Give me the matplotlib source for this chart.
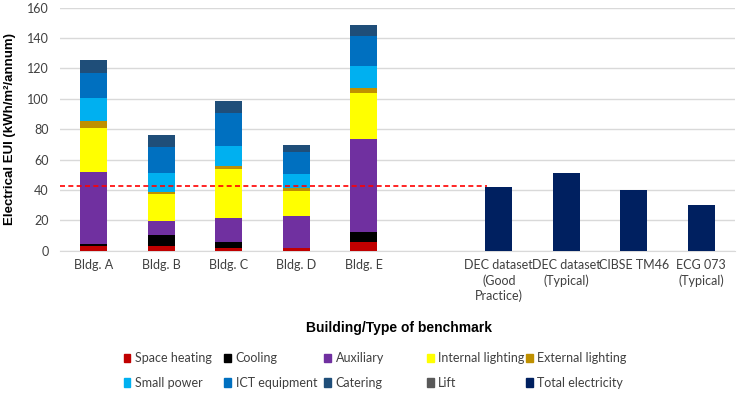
import numpy as np
import matplotlib.pyplot as plt
from matplotlib.patches import Patch

# categories (one blank slot between buildings and benchmarks)
labels = ["Bldg. A", "Bldg. B", "Bldg. C", "Bldg. D", "Bldg. E", "",
          "DEC dataset\n(Good\nPractice)", "DEC dataset\n(Typical)",
          "CIBSE TM46", "ECG 073\n(Typical)"]

# end-use breakdown for the five buildings (kWh/m2/annum)
space_heating = [3.0, 3.1, 2.0, 1.5, 5.9]
cooling = [1.3, 7.0, 3.5, 0.0, 6.2]
auxiliary = [47.6, 9.5, 15.8, 21.5, 61.4]
internal_lighting = [29.0, 17.5, 32.5, 16.3, 30.5]
external_lighting = [4.8, 1.3, 2.2, 1.9, 2.9]
small_power = [15.0, 12.8, 12.7, 9.0, 14.7]
ict_equipment = [16.3, 17.1, 21.9, 14.5, 19.9]
catering = [8.4, 8.1, 7.7, 4.6, 6.9]
lift = [0.0, 0.0, 0.0, 0.0, 0.0]

# benchmark totals
total_electricity = [42, 51, 40, 30]

# good practice reference line
ref_line = 42.6

series = [
    ("Space heating", space_heating, "#C00000"),
    ("Cooling", cooling, "#000000"),
    ("Auxiliary", auxiliary, "#7030A0"),
    ("Internal lighting", internal_lighting, "#FFFF00"),
    ("External lighting", external_lighting, "#BF9000"),
    ("Small power", small_power, "#00B0F0"),
    ("ICT equipment", ict_equipment, "#0070C0"),
    ("Catering", catering, "#1F4E79"),
    ("Lift", lift, "#595959"),
]
total_color = "#002060"

plt.rcParams['font.family'] = ['Lato', 'DejaVu Sans']

fig = plt.figure(figsize=(7.39, 3.96), dpi=100)
ax = fig.add_axes([0.0812, 0.367, 0.9134, 0.6134])

x = np.arange(len(labels))
xb = x[:5]
xr = x[6:]
w = 0.4

bottom = np.zeros(5)
for name, vals, col in series:
    vals = np.array(vals)
    ax.bar(xb, vals, w, bottom=bottom, color=col, zorder=3)
    bottom += vals

ax.bar(xr, total_electricity, w, color=total_color, zorder=3)

ax.plot([-0.5, xr[0] - 0.17], [ref_line, ref_line], color="#FF0000",
        linestyle=(0, (3, 2)), linewidth=1.2, zorder=4)

ax.set_xlim(-0.5, len(labels) - 0.5)
ax.set_ylim(0, 160)
ax.set_yticks(np.arange(0, 161, 20))
ax.yaxis.grid(True, color="#D9D9D9", linewidth=1)
ax.set_axisbelow(True)
for s in ["top", "right", "left"]:
    ax.spines[s].set_visible(False)
ax.spines["bottom"].set_color("#D9D9D9")
ax.tick_params(axis="y", length=0, labelsize=9, colors="#404040", pad=8)
ax.tick_params(axis="x", length=0, labelsize=9, colors="#404040", pad=6)
ax.set_xticks(x)
ax.set_xticklabels(labels, linespacing=1.3, va="top")

ax.set_ylabel("Electrical EUI (kWh/m²/annum)", fontsize=9.5, fontweight="bold",
              family="Liberation Sans", labelpad=8)
fig.text(0.54, 0.172, "Building/Type of benchmark", ha="center", va="center",
         fontsize=10, fontweight="bold", family="Liberation Sans")

handles = [Patch(color=c, label=n) for n, _, c in series]
handles.append(Patch(color=total_color, label="Total electricity"))

# legend laid out as five columns of two rows
col_x = [123.5, 224.3, 324.3, 426.7, 525.7]
for i, cx in enumerate(col_x):
    leg = fig.legend(handles=[handles[i], handles[i + 5]], loc="center left",
                     bbox_to_anchor=(cx / 739, 1 - 370.5 / 396),
                     frameon=False, fontsize=9, handlelength=0.55,
                     handleheight=0.65, handletextpad=0.35, labelspacing=1.0,
                     borderpad=0, borderaxespad=0, labelcolor="#404040")

fig.savefig("out.png", dpi=100)
